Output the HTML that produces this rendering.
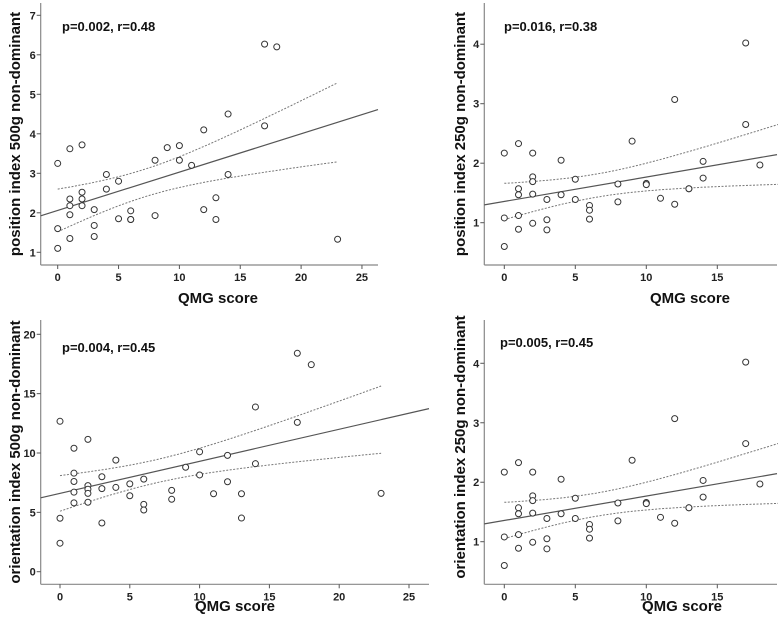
<!DOCTYPE html>
<html><head><meta charset="utf-8"><style>
body{margin:0;background:#fff}
svg{display:block;font-family:"Liberation Sans",Arial,sans-serif}
.tk{font-size:11px;font-weight:bold;fill:#222}
.lab{font-size:15px;font-weight:bold;fill:#111}
.ann{font-size:13px;font-weight:bold;fill:#111}
</style></head><body>
<svg id="chart" width="778" height="623" viewBox="0 0 778 623"></svg>
<script>
const qmgA=[0,0,0,1,1,1,1,1,2,2,2,2,3,3,3,4,4,5,5,6,6,6,8,8,9,10,10,11,12,12,13,13,14,14,17,17,18,23];
const posIdx500=[3.25,1.6,1.1,3.62,2.35,2.18,1.95,1.35,3.72,2.52,2.35,2.18,2.08,1.68,1.4,2.97,2.6,2.8,1.85,2.05,1.83,1.83,3.33,1.93,3.65,3.7,3.33,3.2,4.1,2.08,2.38,1.83,4.5,2.97,6.27,4.2,6.2,1.33];
const qmgB=[0,0,0,1,1,1,1,1,2,2,2,2,2,3,3,3,4,4,5,5,6,6,6,8,8,9,10,10,11,12,12,13,13,14,14,17,17,18];
const posIdx250=[2.17,1.08,0.6,2.33,1.57,1.47,1.12,0.89,2.17,1.77,1.69,1.48,0.99,1.39,1.05,0.88,2.05,1.47,1.73,1.39,1.29,1.21,1.06,1.65,1.35,2.37,1.66,1.64,1.41,3.07,1.31,1.57,1.57,2.03,1.75,4.02,2.65,1.97];
const qmgC=[0,0,0,1,1,1,1,1,2,2,2,2,2,3,3,3,4,4,5,5,6,6,6,8,8,9,10,10,11,12,12,13,13,14,14,17,17,18,23];
const oriIdx500=[12.67,4.5,2.4,10.4,8.3,7.6,6.7,5.8,11.15,7.25,6.95,6.6,5.85,8.0,7.0,4.1,9.4,7.1,7.4,6.4,7.8,5.67,5.2,6.85,6.1,8.8,10.1,8.15,6.57,9.8,7.58,6.57,4.52,13.88,9.1,18.4,12.58,17.44,6.6];
const oriIdx250=posIdx250.slice();
const fitIntercept=[2.06,1.357,6.6,1.357];
const fitSlope=[0.097,0.041,0.27,0.041];
const ciHalfAt0=[0.54,0.305,1.5,0.305];
const xTicksA=[0,5,10,15,20,25], xTicksB=[0,5,10,15];
const yTicks1=[1,2,3,4,5,6,7], yTicks2=[1,2,3,4], yTicks3=[0,5,10,15,20];
const annotations=["p=0.002, r=0.48","p=0.016, r=0.38","p=0.004, r=0.45","p=0.005, r=0.45"];
const yTitles=["position index 500g non-dominant","position index 250g non-dominant","orientation index 500g non-dominant","orientation index 250g non-dominant"];

const NS="http://www.w3.org/2000/svg";
const svg=document.getElementById('chart');
function mk(t,a,p){const e=document.createElementNS(NS,t);for(const k in a)e.setAttribute(k,a[k]);(p||svg).appendChild(e);return e;}

const panels=[
 {xs:qmgA,ys:posIdx500,xt:xTicksA,yt:yTicks1,x0:57.7,xs1:12.17,yv:1,yp:252.3,ys1:39.5,L:40.7,B:265,T:3,R:378,ciEnd:23,ann:[62,31],ylx:15,yly:134,xlx:218,xly:303},
 {xs:qmgB,ys:posIdx250,xt:xTicksB,yt:yTicks2,x0:504.3,xs1:14.2,yv:1,yp:222.7,ys1:59.5,L:484.3,B:265,T:3,R:777,ciEnd:19.35,ann:[504,31],ylx:460,yly:134,xlx:690,xly:303},
 {xs:qmgC,ys:oriIdx500,xt:xTicksA,yt:yTicks3,x0:60,xs1:13.96,yv:0,yp:571.7,ys1:11.87,L:40.7,B:584.3,T:320,R:429,ciEnd:23,ann:[62,352],ylx:15,yly:452,xlx:235,xly:611},
 {xs:qmgB,ys:oriIdx250,xt:xTicksB,yt:yTicks2,x0:504.3,xs1:14.2,yv:1,yp:541.7,ys1:59.47,L:484.3,B:584.3,T:320,R:777,ciEnd:19.35,ann:[500,347],ylx:460,yly:447,xlx:682,xly:611}
];

panels.forEach((p,i)=>{
 const g=mk('g',{});
 
 
 const X=v=>p.x0+v*p.xs1, Y=v=>p.yp-(v-p.yv)*p.ys1;
 const xa=mk('line',{x1:p.L,y1:p.B,x2:p.R,y2:p.B,stroke:'#888','stroke-width':1.2},g);
 
 
 const ya=mk('line',{x1:p.L,y1:p.T,x2:p.L,y2:p.B,stroke:'#888','stroke-width':1.2},g);
 
 
 p.xt.forEach(v=>{
  mk('line',{x1:X(v),y1:p.B,x2:X(v),y2:p.B+4,stroke:'#555'},g);
  const t=mk('text',{x:X(v),y:p.B+16,'text-anchor':'middle',class:'tk'},g);t.textContent=v;
  
  
 });
 p.yt.forEach(v=>{
  mk('line',{x1:p.L-4,y1:Y(v),x2:p.L,y2:Y(v),stroke:'#555'},g);
  const t=mk('text',{x:p.L-5,y:Y(v)+4,'text-anchor':'end',class:'tk'},g);t.textContent=v;
  
  
 });
 const n=p.xs.length;let mx=0;for(let k=0;k<n;k++)mx+=p.xs[k];mx/=n;
 let sxx=0;for(let k=0;k<n;k++)sxx+=(p.xs[k]-mx)**2;
 const a=fitIntercept[i],b=fitSlope[i];
 const w0=Math.sqrt(1/n+mx*mx/sxx), sc=ciHalfAt0[i]/w0;
 const xl=(p.L-p.x0)/p.xs1,xr=(p.R-p.x0)/p.xs1;
 const fl=mk('line',{x1:X(xl),y1:Y(a+b*xl),x2:X(xr),y2:Y(a+b*xr),stroke:'#555','stroke-width':1.2},g);
 
 
 const xmin=Math.min(...p.xs);
 [1,-1].forEach(sg=>{
  let d='';for(let k=0;k<=60;k++){const xv=xmin+(p.ciEnd-xmin)*k/60;const yv=a+b*xv+sg*sc*Math.sqrt(1/n+(xv-mx)**2/sxx);d+=(k?'L':'M')+X(xv).toFixed(1)+' '+Y(yv).toFixed(1);}
  const c=mk('path',{d:d,fill:'none',stroke:'#777','stroke-width':1,'stroke-dasharray':'2,1.5'},g);
  
  
 });
 for(let k=0;k<n;k++){
  const c=mk('circle',{cx:X(p.xs[k]),cy:Y(p.ys[k]),r:3,fill:'#fff',stroke:'#333','stroke-width':1},g);
  
  
 }
 const an=mk('text',{x:p.ann[0],y:p.ann[1],class:'ann'},g);an.textContent=annotations[i];
 
 
 const yl=mk('text',{x:p.ylx,y:p.yly,class:'lab','text-anchor':'middle',transform:`rotate(-90 ${p.ylx} ${p.yly})`,dy:'5'},g);yl.textContent=yTitles[i];
 
 
 const xl2=mk('text',{x:p.xlx,y:p.xly,class:'lab','text-anchor':'middle'},g);xl2.textContent='QMG score';
 
 
});
</script>
</body></html>
